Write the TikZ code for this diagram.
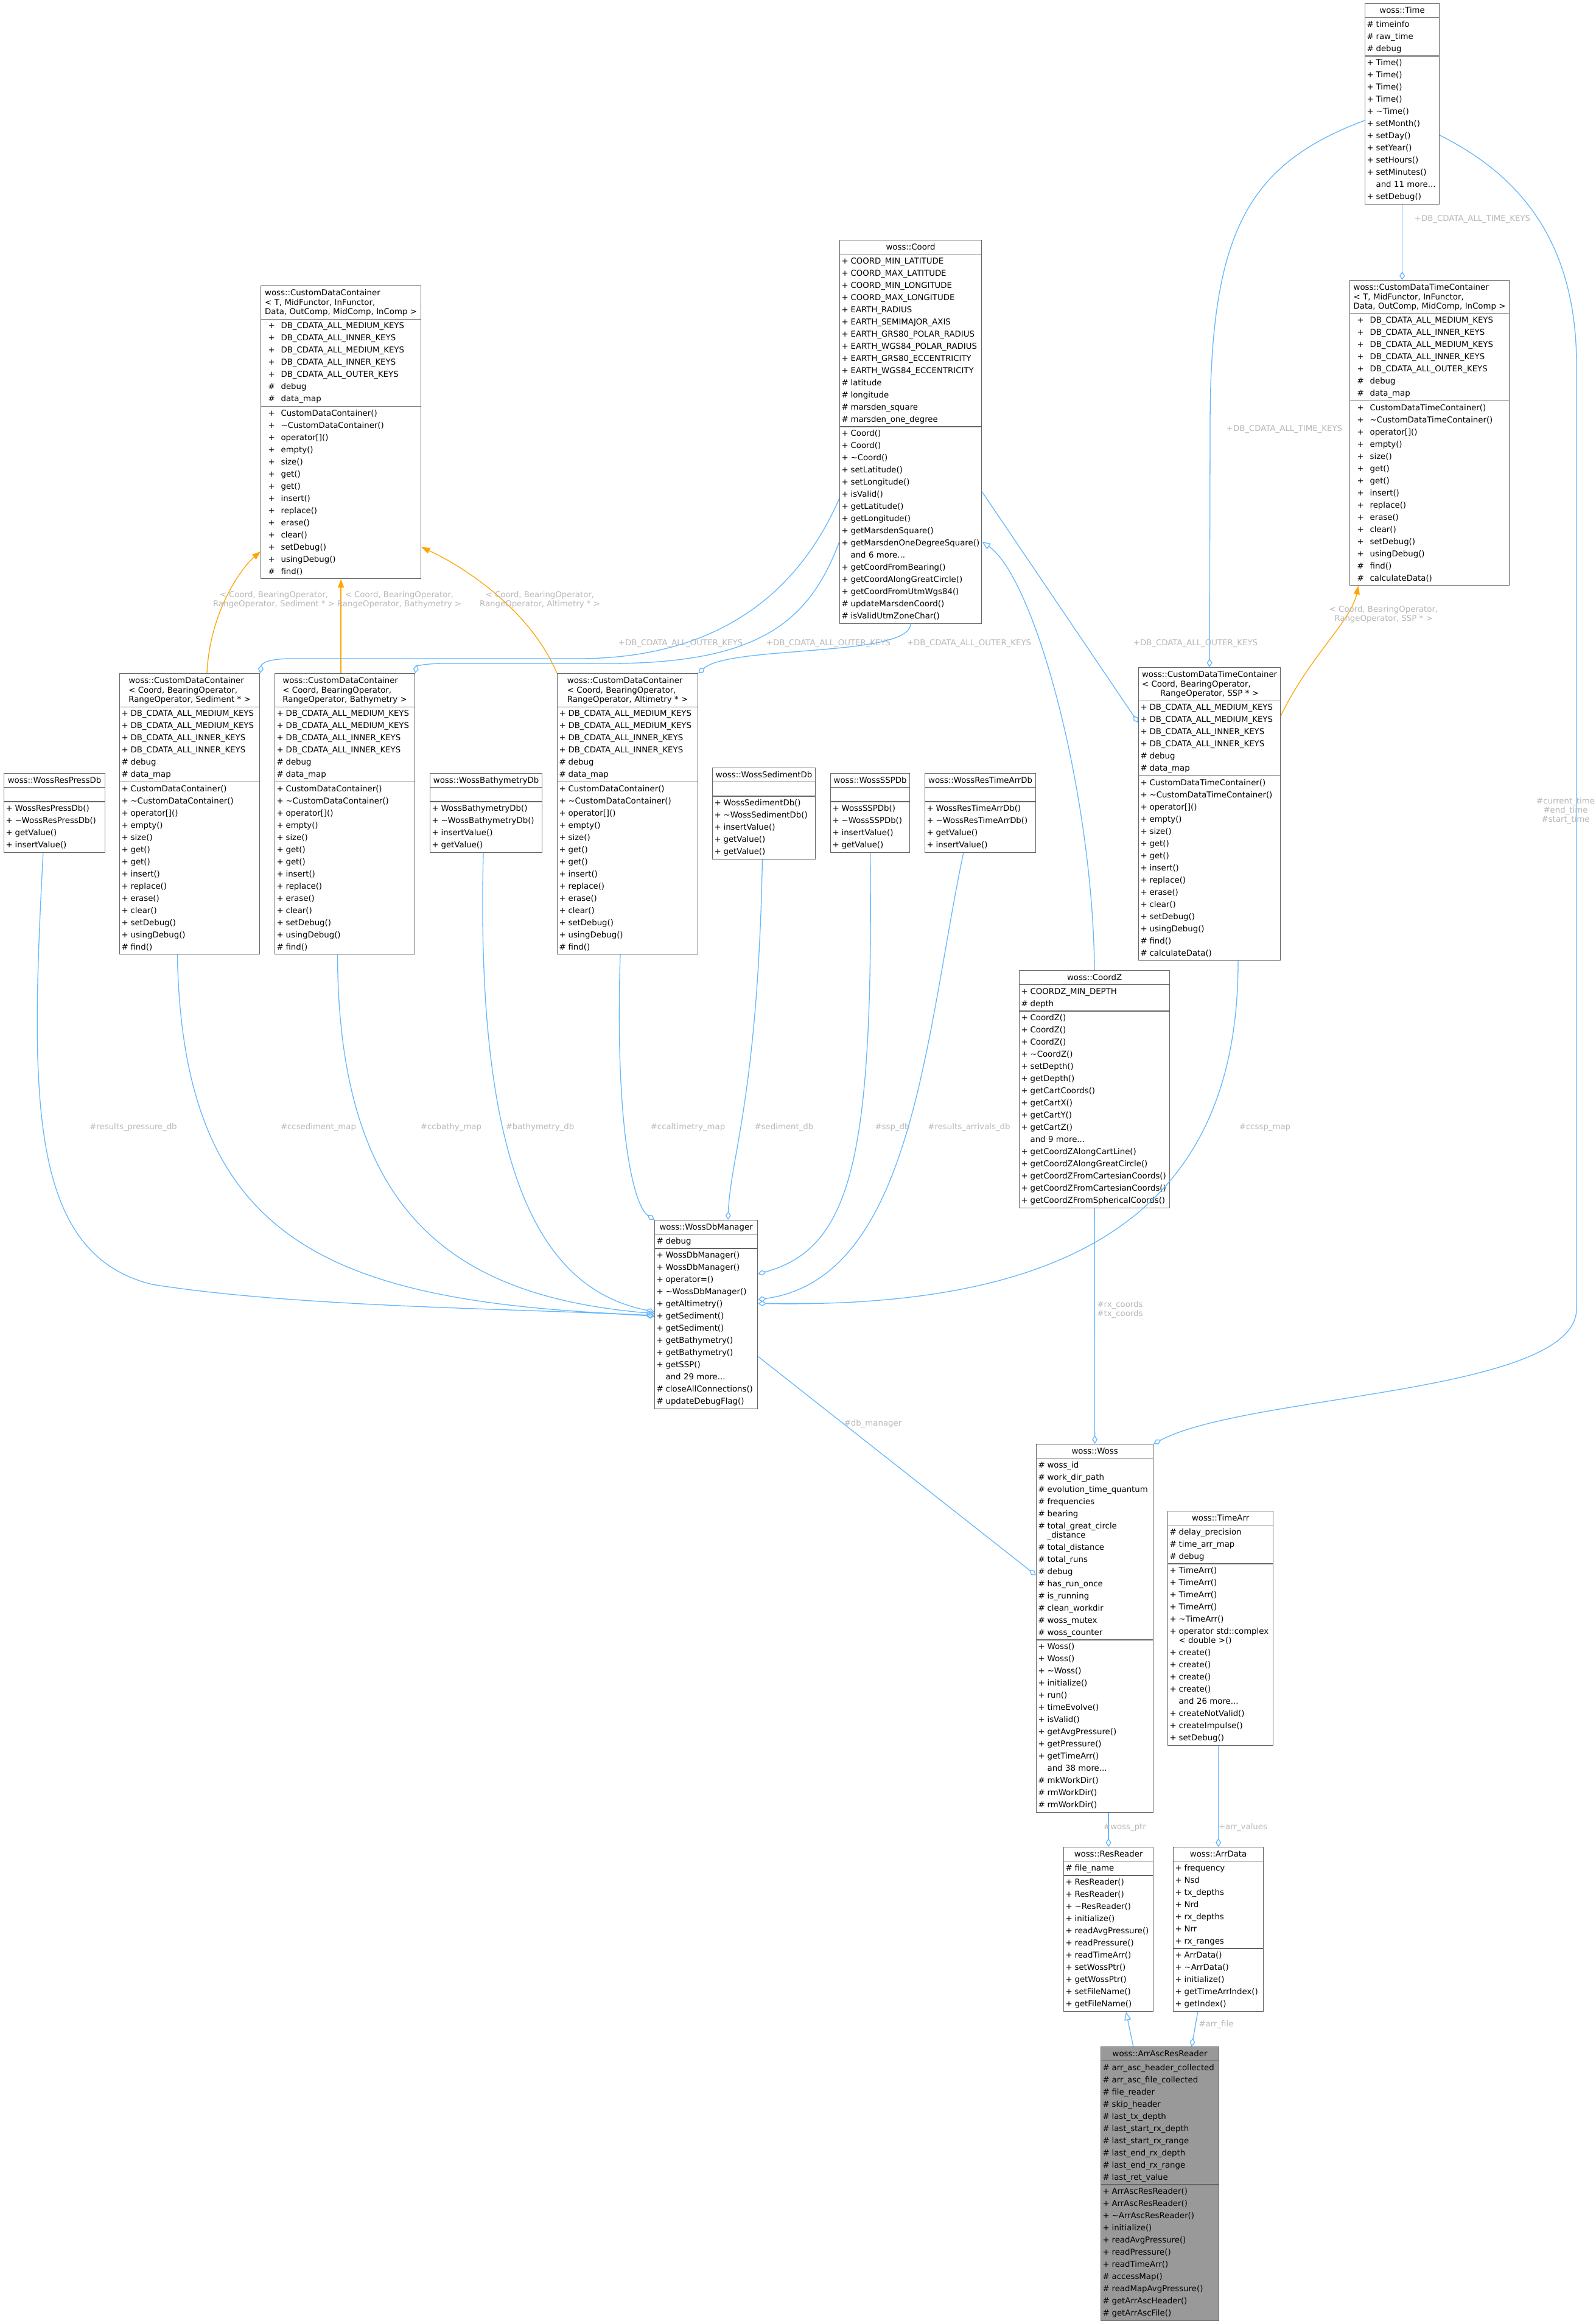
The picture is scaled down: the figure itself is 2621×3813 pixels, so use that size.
\documentclass[tikz,border=0pt]{standalone}
\usepackage{fontspec}
\setmainfont{DejaVu Sans}
\usetikzlibrary{positioning,arrows.meta,shapes.multipart}
\definecolor{cBox}{HTML}{666666}
\definecolor{cFoc}{HTML}{999999}
\definecolor{cUse}{HTML}{63B8FF}
\definecolor{cTpl}{HTML}{FFA500}
\definecolor{cLbl}{HTML}{B8B8B8}
\setlength\parindent{0pt}
\newlength\symw \setlength\symw{15pt}
\newcommand\rowstrut{\rule[-6pt]{0pt}{20pt}}
\newcommand\ctr[1]{\makebox[\hsize][c]{#1}}
\newcommand\pub[1]{\rowstrut\makebox[\symw][l]{+}#1}
\newcommand\pro[1]{\rowstrut\makebox[\symw][l]{\#}#1}
\newcommand\gpub[1]{\rowstrut\hspace*{9pt}\makebox[21pt][l]{+}#1}
\newcommand\gpro[1]{\rowstrut\hspace*{9pt}\makebox[21pt][l]{\#}#1}
\newcommand\more[1]{\rowstrut\hspace*{\symw}and #1 more...}
\newcommand\tpl[3]{\ctr{\def\arraystretch{0.75}\begin{tabular}{@{}l@{}}\rowstrut#1\\#2\\\multicolumn{1}{@{}c@{}}{#3\rule[-6pt]{0pt}{0pt}}\end{tabular}}}
\tikzset{
  cls/.style={rectangle split,rectangle split parts=3,draw=cBox,fill=white,line width=1.2pt,inner xsep=3pt,inner ysep=1pt,align=left,anchor=north west,font=\fontsize{13.3}{20}\selectfont},
  uses/.style={draw=cUse,line width=1.3pt,-{Diamond[open,length=14pt,width=9pt]}},
  inh/.style={draw=cUse,line width=1.3pt,-{Triangle[open,length=14pt,width=11pt]}},
  inst/.style={draw=cTpl,line width=1.3pt,-{Triangle[length=14pt,width=10pt]}},
  elbl/.style={font=\fontsize{13.3}{15}\selectfont,text=cLbl,align=center,inner sep=0pt},
}
\begin{document}
\begin{tikzpicture}[x=1pt,y=-1pt]
  \fill[white] (0,0) rectangle (2621,3813);
  \useasboundingbox (0,0) rectangle (2621,3813);

  % classes, top row
  \node[cls,text width=116pt] (tm) at (2242,5) {\ctr{\rowstrut woss::Time}
    \nodepart{two}\pro{timeinfo}\\\pro{raw\_time}\\\pro{debug}
    \nodepart{three}\pub{Time()}\\\pub{Time()}\\\pub{Time()}\\\pub{Time()}\\\pub{\textasciitilde Time()}\\\pub{setMonth()}\\\pub{setDay()}\\\pub{setYear()}\\\pub{setHours()}\\\pub{setMinutes()}\\\more{11}\\\pub{setDebug()}};
  \node[cls,text width=256pt] (cdtcg) at (2217,460) {\tpl{woss::CustomDataTimeContainer}{< T, MidFunctor, InFunctor,}{ Data, OutComp, MidComp, InComp >}
    \nodepart{two}\gpub{DB\_CDATA\_ALL\_MEDIUM\_KEYS}\\\gpub{DB\_CDATA\_ALL\_INNER\_KEYS}\\\gpub{DB\_CDATA\_ALL\_MEDIUM\_KEYS}\\\gpub{DB\_CDATA\_ALL\_INNER\_KEYS}\\\gpub{DB\_CDATA\_ALL\_OUTER\_KEYS}\\\gpro{debug}\\\gpro{data\_map}
    \nodepart{three}\gpub{CustomDataTimeContainer()}\\\gpub{\textasciitilde CustomDataTimeContainer()}\\\gpub{operator[]()}\\\gpub{empty()}\\\gpub{size()}\\\gpub{get()}\\\gpub{get()}\\\gpub{insert()}\\\gpub{replace()}\\\gpub{erase()}\\\gpub{clear()}\\\gpub{setDebug()}\\\gpub{usingDebug()}\\\gpro{find()}\\\gpro{calculateData()}};
  \node[cls,text width=257pt] (cdcg) at (428,469) {\tpl{woss::CustomDataContainer}{< T, MidFunctor, InFunctor,}{ Data, OutComp, MidComp, InComp >}
    \nodepart{two}\gpub{DB\_CDATA\_ALL\_MEDIUM\_KEYS}\\\gpub{DB\_CDATA\_ALL\_INNER\_KEYS}\\\gpub{DB\_CDATA\_ALL\_MEDIUM\_KEYS}\\\gpub{DB\_CDATA\_ALL\_INNER\_KEYS}\\\gpub{DB\_CDATA\_ALL\_OUTER\_KEYS}\\\gpro{debug}\\\gpro{data\_map}
    \nodepart{three}\gpub{CustomDataContainer()}\\\gpub{\textasciitilde CustomDataContainer()}\\\gpub{operator[]()}\\\gpub{empty()}\\\gpub{size()}\\\gpub{get()}\\\gpub{get()}\\\gpub{insert()}\\\gpub{replace()}\\\gpub{erase()}\\\gpub{clear()}\\\gpub{setDebug()}\\\gpub{usingDebug()}\\\gpro{find()}};
  \node[cls,text width=227pt] (crd) at (1379,394) {\ctr{\rowstrut woss::Coord}
    \nodepart{two}\pub{COORD\_MIN\_LATITUDE}\\\pub{COORD\_MAX\_LATITUDE}\\\pub{COORD\_MIN\_LONGITUDE}\\\pub{COORD\_MAX\_LONGITUDE}\\\pub{EARTH\_RADIUS}\\\pub{EARTH\_SEMIMAJOR\_AXIS}\\\pub{EARTH\_GRS80\_POLAR\_RADIUS}\\\pub{EARTH\_WGS84\_POLAR\_RADIUS}\\\pub{EARTH\_GRS80\_ECCENTRICITY}\\\pub{EARTH\_WGS84\_ECCENTRICITY}\\\pro{latitude}\\\pro{longitude}\\\pro{marsden\_square}\\\pro{marsden\_one\_degree}
    \nodepart{three}\pub{Coord()}\\\pub{Coord()}\\\pub{\textasciitilde Coord()}\\\pub{setLatitude()}\\\pub{setLongitude()}\\\pub{isValid()}\\\pub{getLatitude()}\\\pub{getLongitude()}\\\pub{getMarsdenSquare()}\\\pub{getMarsdenOneDegreeSquare()}\\\more{6}\\\pub{getCoordFromBearing()}\\\pub{getCoordAlongGreatCircle()}\\\pub{getCoordFromUtmWgs84()}\\\pro{updateMarsdenCoord()}\\\pro{isValidUtmZoneChar()}};

  % template instances and databases
  \node[cls,text width=224pt] (cdcsed) at (196,1106) {\tpl{woss::CustomDataContainer}{< Coord, BearingOperator,}{RangeOperator, Sediment * >}
    \nodepart{two}\pub{DB\_CDATA\_ALL\_MEDIUM\_KEYS}\\\pub{DB\_CDATA\_ALL\_MEDIUM\_KEYS}\\\pub{DB\_CDATA\_ALL\_INNER\_KEYS}\\\pub{DB\_CDATA\_ALL\_INNER\_KEYS}\\\pro{debug}\\\pro{data\_map}
    \nodepart{three}\pub{CustomDataContainer()}\\\pub{\textasciitilde CustomDataContainer()}\\\pub{operator[]()}\\\pub{empty()}\\\pub{size()}\\\pub{get()}\\\pub{get()}\\\pub{insert()}\\\pub{replace()}\\\pub{erase()}\\\pub{clear()}\\\pub{setDebug()}\\\pub{usingDebug()}\\\pro{find()}};
  \node[cls,text width=224pt] (cdcbat) at (451,1106) {\tpl{woss::CustomDataContainer}{< Coord, BearingOperator,}{RangeOperator, Bathymetry >}
    \nodepart{two}\pub{DB\_CDATA\_ALL\_MEDIUM\_KEYS}\\\pub{DB\_CDATA\_ALL\_MEDIUM\_KEYS}\\\pub{DB\_CDATA\_ALL\_INNER\_KEYS}\\\pub{DB\_CDATA\_ALL\_INNER\_KEYS}\\\pro{debug}\\\pro{data\_map}
    \nodepart{three}\pub{CustomDataContainer()}\\\pub{\textasciitilde CustomDataContainer()}\\\pub{operator[]()}\\\pub{empty()}\\\pub{size()}\\\pub{get()}\\\pub{get()}\\\pub{insert()}\\\pub{replace()}\\\pub{erase()}\\\pub{clear()}\\\pub{setDebug()}\\\pub{usingDebug()}\\\pro{find()}};
  \node[cls,text width=225pt] (cdcalt) at (915,1106) {\tpl{woss::CustomDataContainer}{< Coord, BearingOperator,}{RangeOperator, Altimetry * >}
    \nodepart{two}\pub{DB\_CDATA\_ALL\_MEDIUM\_KEYS}\\\pub{DB\_CDATA\_ALL\_MEDIUM\_KEYS}\\\pub{DB\_CDATA\_ALL\_INNER\_KEYS}\\\pub{DB\_CDATA\_ALL\_INNER\_KEYS}\\\pro{debug}\\\pro{data\_map}
    \nodepart{three}\pub{CustomDataContainer()}\\\pub{\textasciitilde CustomDataContainer()}\\\pub{operator[]()}\\\pub{empty()}\\\pub{size()}\\\pub{get()}\\\pub{get()}\\\pub{insert()}\\\pub{replace()}\\\pub{erase()}\\\pub{clear()}\\\pub{setDebug()}\\\pub{usingDebug()}\\\pro{find()}};
  \node[cls,text width=227pt] (cdtcs) at (1870,1096) {\tpl{woss::CustomDataTimeContainer}{< Coord, BearingOperator,}{RangeOperator, SSP * >}
    \nodepart{two}\pub{DB\_CDATA\_ALL\_MEDIUM\_KEYS}\\\pub{DB\_CDATA\_ALL\_MEDIUM\_KEYS}\\\pub{DB\_CDATA\_ALL\_INNER\_KEYS}\\\pub{DB\_CDATA\_ALL\_INNER\_KEYS}\\\pro{debug}\\\pro{data\_map}
    \nodepart{three}\pub{CustomDataTimeContainer()}\\\pub{\textasciitilde CustomDataTimeContainer()}\\\pub{operator[]()}\\\pub{empty()}\\\pub{size()}\\\pub{get()}\\\pub{get()}\\\pub{insert()}\\\pub{replace()}\\\pub{erase()}\\\pub{clear()}\\\pub{setDebug()}\\\pub{usingDebug()}\\\pro{find()}\\\pro{calculateData()}};
  \node[cls,text width=160pt] (rpdb) at (6,1270) {\ctr{\rowstrut woss::WossResPressDb}
    \nodepart{two}\rowstrut
    \nodepart{three}\pub{WossResPressDb()}\\\pub{\textasciitilde WossResPressDb()}\\\pub{getValue()}\\\pub{insertValue()}};
  \node[cls,text width=178pt] (bdb) at (706,1270) {\ctr{\rowstrut woss::WossBathymetryDb}
    \nodepart{two}\rowstrut
    \nodepart{three}\pub{WossBathymetryDb()}\\\pub{\textasciitilde WossBathymetryDb()}\\\pub{insertValue()}\\\pub{getValue()}};
  \node[cls,text width=163pt] (sdb) at (1170,1261) {\ctr{\rowstrut woss::WossSedimentDb}
    \nodepart{two}\rowstrut
    \nodepart{three}\pub{WossSedimentDb()}\\\pub{\textasciitilde WossSedimentDb()}\\\pub{insertValue()}\\\pub{getValue()}\\\pub{getValue()}};
  \node[cls,text width=124pt] (sspdb) at (1364,1270) {\ctr{\rowstrut woss::WossSSPDb}
    \nodepart{two}\rowstrut
    \nodepart{three}\pub{WossSSPDb()}\\\pub{\textasciitilde WossSSPDb()}\\\pub{insertValue()}\\\pub{getValue()}};
  \node[cls,text width=176pt] (rtadb) at (1519,1270) {\ctr{\rowstrut woss::WossResTimeArrDb}
    \nodepart{two}\rowstrut
    \nodepart{three}\pub{WossResTimeArrDb()}\\\pub{\textasciitilde WossResTimeArrDb()}\\\pub{getValue()}\\\pub{insertValue()}};

  % lower classes
  \node[cls,text width=241pt] (crdz) at (1674,1594) {\ctr{\rowstrut woss::CoordZ}
    \nodepart{two}\pub{COORDZ\_MIN\_DEPTH}\\\pro{depth}
    \nodepart{three}\pub{CoordZ()}\\\pub{CoordZ()}\\\pub{CoordZ()}\\\pub{\textasciitilde CoordZ()}\\\pub{setDepth()}\\\pub{getDepth()}\\\pub{getCartCoords()}\\\pub{getCartX()}\\\pub{getCartY()}\\\pub{getCartZ()}\\\more{9}\\\pub{getCoordZAlongCartLine()}\\\pub{getCoordZAlongGreatCircle()}\\\pub{getCoordZFromCartesianCoords()}\\\pub{getCoordZFromCartesianCoords()}\\\pub{getCoordZFromSphericalCoords()}};
  \node[cls,text width=163pt] (dbm) at (1075,2004) {\ctr{\rowstrut woss::WossDbManager}
    \nodepart{two}\pro{debug}
    \nodepart{three}\pub{WossDbManager()}\\\pub{WossDbManager()}\\\pub{operator=()}\\\pub{\textasciitilde WossDbManager()}\\\pub{getAltimetry()}\\\pub{getSediment()}\\\pub{getSediment()}\\\pub{getBathymetry()}\\\pub{getBathymetry()}\\\pub{getSSP()}\\\more{29}\\\pro{closeAllConnections()}\\\pro{updateDebugFlag()}};
  \node[cls,text width=186pt] (wss) at (1702,2372) {\ctr{\rowstrut woss::Woss}
    \nodepart{two}\pro{woss\_id}\\\pro{work\_dir\_path}\\\pro{evolution\_time\_quantum}\\\pro{frequencies}\\\pro{bearing}\\\pro{total\_great\_circle}\\[-5pt]\rowstrut\hspace*{\symw}\_distance\\\pro{total\_distance}\\\pro{total\_runs}\\\pro{debug}\\\pro{has\_run\_once}\\\pro{is\_running}\\\pro{clean\_workdir}\\\pro{woss\_mutex}\\\pro{woss\_counter}
    \nodepart{three}\pub{Woss()}\\\pub{Woss()}\\\pub{\textasciitilde Woss()}\\\pub{initialize()}\\\pub{run()}\\\pub{timeEvolve()}\\\pub{isValid()}\\\pub{getAvgPressure()}\\\pub{getPressure()}\\\pub{getTimeArr()}\\\more{38}\\\pro{mkWorkDir()}\\\pro{rmWorkDir()}\\\pro{rmWorkDir()}};
  \node[cls,text width=167pt] (tarr) at (1918,2482) {\ctr{\rowstrut woss::TimeArr}
    \nodepart{two}\pro{delay\_precision}\\\pro{time\_arr\_map}\\\pro{debug}
    \nodepart{three}\pub{TimeArr()}\\\pub{TimeArr()}\\\pub{TimeArr()}\\\pub{TimeArr()}\\\pub{\textasciitilde TimeArr()}\\\pub{operator std::complex}\\[-5pt]\rowstrut\hspace*{\symw}< double >()\\\pub{create()}\\\pub{create()}\\\pub{create()}\\\pub{create()}\\\more{26}\\\pub{createNotValid()}\\\pub{createImpulse()}\\\pub{setDebug()}};
  \node[cls,text width=141pt] (rrd) at (1747,3034) {\ctr{\rowstrut woss::ResReader}
    \nodepart{two}\pro{file\_name}
    \nodepart{three}\pub{ResReader()}\\\pub{ResReader()}\\\pub{\textasciitilde ResReader()}\\\pub{initialize()}\\\pub{readAvgPressure()}\\\pub{readPressure()}\\\pub{readTimeArr()}\\\pub{setWossPtr()}\\\pub{getWossPtr()}\\\pub{setFileName()}\\\pub{getFileName()}};
  \node[cls,text width=142pt] (adat) at (1927,3034) {\ctr{\rowstrut woss::ArrData}
    \nodepart{two}\pub{frequency}\\\pub{Nsd}\\\pub{tx\_depths}\\\pub{Nrd}\\\pub{rx\_depths}\\\pub{Nrr}\\\pub{rx\_ranges}
    \nodepart{three}\pub{ArrData()}\\\pub{\textasciitilde ArrData()}\\\pub{initialize()}\\\pub{getTimeArrIndex()}\\\pub{getIndex()}};
  \node[cls,fill=cFoc,text width=188pt] (aarr) at (1808,3362) {\ctr{\rowstrut woss::ArrAscResReader}
    \nodepart{two}\pro{arr\_asc\_header\_collected}\\\pro{arr\_asc\_file\_collected}\\\pro{file\_reader}\\\pro{skip\_header}\\\pro{last\_tx\_depth}\\\pro{last\_start\_rx\_depth}\\\pro{last\_start\_rx\_range}\\\pro{last\_end\_rx\_depth}\\\pro{last\_end\_rx\_range}\\\pro{last\_ret\_value}
    \nodepart{three}\pub{ArrAscResReader()}\\\pub{ArrAscResReader()}\\\pub{\textasciitilde ArrAscResReader()}\\\pub{initialize()}\\\pub{readAvgPressure()}\\\pub{readPressure()}\\\pub{readTimeArr()}\\\pro{accessMap()}\\\pro{readMapAvgPressure()}\\\pro{getArrAscHeader()}\\\pro{getArrAscFile()}};

  % template instantiations
  \draw[inst] (cdcsed.83) .. controls (345,1000) and (400,930) .. (cdcg.236)
    node[elbl] at (450,985) {< Coord, BearingOperator,\\ RangeOperator, Sediment * >};
  \draw[inst] (cdcg.south |- cdcbat.north) -- (cdcg.south)
    node[elbl] at (656,985) {< Coord, BearingOperator,\\ RangeOperator, Bathymetry >};
  \draw[inst] (cdcalt.north west) .. controls (870,1000) and (760,930) .. (cdcg.-55)
    node[elbl] at (887,985) {< Coord, BearingOperator,\\ RangeOperator, Altimetry * >};
  \draw[inst] (cdtcs.54) .. controls (2150,1080) and (2220,1020) .. (cdtcg.-115)
    node[elbl] at (2273,1009) {< Coord, BearingOperator,\\ RangeOperator, SSP * >};

  % time keys
  \draw[uses] (tm.south) -- (tm.south |- cdtcg.north)
    node[elbl] at (2419,360) {+DB\_CDATA\_ALL\_TIME\_KEYS};
  \draw[uses] (tm.204) .. controls (2050,270) and (1988,380) .. (1988,700) -- (cdtcs.north)
    node[elbl] at (2110,705) {+DB\_CDATA\_ALL\_TIME\_KEYS};
  \draw[uses] (tm.-40) .. controls (2480,280) and (2590,380) .. (2590,600) -- (2590,2150)
    .. controls (2590,2290) and (2050,2290) .. (wss.north east)
    node[elbl] at (2572,1332) {\#current\_time\\\#end\_time\\\#start\_time};

  % coord keys
  \draw[uses] (crd.223) .. controls (1300,1000) and (1150,1082) .. (950,1082) -- (480,1082)
    .. controls (440,1082) and (430,1090) .. (cdcsed.north east)
    node[elbl] at (1118,1057) {+DB\_CDATA\_ALL\_OUTER\_KEYS};
  \draw[uses] (crd.237) .. controls (1330,1020) and (1250,1090) .. (1000,1090) -- (730,1090)
    .. controls (695,1090) and (684,1095) .. (cdcbat.north east)
    node[elbl] at (1361,1057) {+DB\_CDATA\_ALL\_OUTER\_KEYS};
  \draw[uses] (crd.south) .. controls (1495,1080) and (1200,1060) .. (cdcalt.north east)
    node[elbl] at (1592,1057) {+DB\_CDATA\_ALL\_OUTER\_KEYS};
  \draw[uses] (crd.-40) -- (cdtcs.128)
    node[elbl] at (1964,1057) {+DB\_CDATA\_ALL\_OUTER\_KEYS};
  \draw[inh] (crdz.north) .. controls (1795,1300) and (1700,950) .. (crd.-57);

  % database manager members
  \draw[uses] (rpdb.-106) .. controls (50,1800) and (45,2060) .. (250,2110)
    .. controls (500,2150) and (900,2150) .. (dbm.182)
    node[elbl] at (219,1852) {\#results\_pressure\_db};
  \draw[uses] (cdcsed.-95) .. controls (300,2050) and (550,2140) .. (dbm.181)
    node[elbl] at (523,1852) {\#ccsediment\_map};
  \draw[uses] (cdcbat.-93) .. controls (556,2000) and (750,2130) .. (dbm.179)
    node[elbl] at (741,1852) {\#ccbathy\_map};
  \draw[uses] (bdb.-94) .. controls (780,1950) and (900,2120) .. (dbm.177)
    node[elbl] at (887,1852) {\#bathymetry\_db};
  \draw[uses] (cdcalt.-93) .. controls (1010,1850) and (1040,1980) .. (dbm.north west)
    node[elbl] at (1130,1852) {\#ccaltimetry\_map};
  \draw[uses] (sdb.-92) .. controls (1245,1800) and (1200,1900) .. (dbm.77)
    node[elbl] at (1288,1852) {\#sediment\_db};
  \draw[uses] (sspdb.south) .. controls (1435,1900) and (1400,2050) .. (dbm.38)
    node[elbl] at (1466,1852) {\#ssp\_db};
  \draw[uses] (rtadb.-113) .. controls (1520,1700) and (1500,2100) .. (dbm.16)
    node[elbl] at (1592,1852) {\#results\_arrivals\_db};
  \draw[uses] (cdtcs.-79) .. controls (2035,2000) and (1750,2150) .. (dbm.12)
    node[elbl] at (2078,1852) {\#ccssp\_map};

  % woss and readers
  \draw[uses] (crdz.south) -- (wss.north)
    node[elbl] at (1840,2151) {\#rx\_coords\\\#tx\_coords};
  \draw[uses] (dbm.-39) -- (wss.138)
    node[elbl] at (1434,2339) {\#db\_manager};
  \draw[uses] (rrd.north |- wss.south) -- (rrd.north)
    node[elbl] at (1848,3002) {\#woss\_ptr};
  \draw[uses] (adat.north |- tarr.south) -- (adat.north)
    node[elbl] at (2042,3002) {+arr\_values};
  \draw[uses] (adat.-104) -- (aarr.77)
    node[elbl] at (1998,3326) {\#arr\_file};
  \draw[inh] (aarr.101) -- (rrd.-78);
\end{tikzpicture}
\end{document}
